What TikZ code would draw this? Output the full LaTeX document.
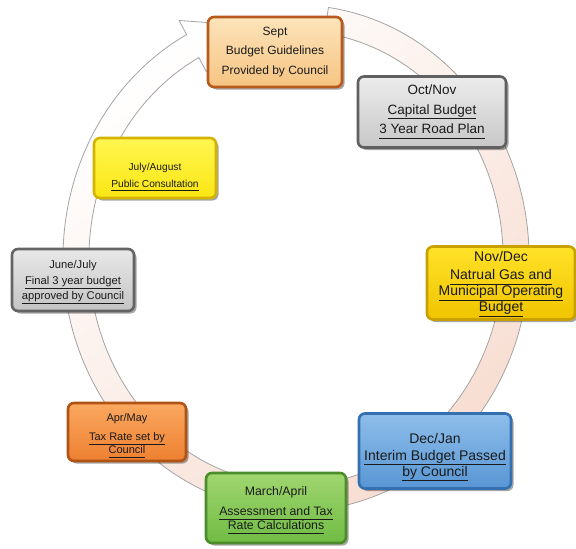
\documentclass[tikz,border=0pt]{standalone}
\usepackage{fontspec}
\setmainfont{Liberation Sans}
\usetikzlibrary{calc,shadows}
\definecolor{ringpink}{HTML}{F7DCD0}
\definecolor{ringline}{HTML}{A4A4A4}
\definecolor{txtcol}{HTML}{1A1A1A}
\newcommand\undl[1]{\underline{#1\vphantom{gy}}}
\begin{document}
\begin{tikzpicture}[x=1pt,y=1pt,
  ring/.style={draw=ringline, line width=0.8pt, top color=white, bottom color=ringpink, shading angle=40},
  cbox/.style={rounded corners=6pt, line width=2.6pt, inner sep=0pt,
     drop shadow={shadow xshift=2.5pt, shadow yshift=-2.5pt, opacity=0.35, fill=black}},
  txt/.style={align=center, text=txtcol, inner sep=0pt}
]
\useasboundingbox (0,0) rectangle (576,-549);
\fill[white] (0,0) rectangle (576,-549);

% circular arrow
\coordinate (C) at (296,-258);
\path[ring] ($(C)+(82:233pt and 253pt)$)
  arc[start angle=82, end angle=-242, x radius=233pt, y radius=253pt]
  -- ($(C)+(118:249pt and 269pt)$)
  -- ($(C)+(104:220pt and 240pt)$)
  -- ($(C)+(118:191pt and 211pt)$)
  -- ($(C)+(118:207pt and 227pt)$)
  arc[start angle=-242, end angle=82, x radius=207pt, y radius=227pt] -- cycle;

% boxes
\node[cbox, minimum width=134, minimum height=70,
      draw={rgb,255:red,184;green,90;blue,28}, top color={rgb,255:red,253;green,228;blue,186}, bottom color={rgb,255:red,246;green,196;blue,130}]
      (sept) at (275,-52) {};
\node[txt, font=\fontsize{12}{19.5}\selectfont] (septt) at (sept.center)
  {Sept\\Budget Guidelines\\Provided by Council};

\node[cbox, minimum width=148, minimum height=71,
      draw={rgb,255:red,96;green,96;blue,96}, top color={rgb,255:red,236;green,236;blue,236}, bottom color={rgb,255:red,200;green,200;blue,200}]
      (oct) at (432,-112) {};
\node[txt, font=\fontsize{13.5}{19.5}\selectfont] (octt) at (oct.center)
  {Oct/Nov\\\undl{Capital Budget}\\\undl{3 Year Road Plan}};

\node[cbox, minimum width=148, minimum height=73,
      draw={rgb,255:red,200;green,160;blue,0}, top color={rgb,255:red,255;green,226;blue,40}, bottom color={rgb,255:red,240;green,196;blue,0}]
      (nov) at (501,-283) {};
\node[txt, font=\fontsize{14}{13.5}\selectfont] (novt) at ($(nov.center)+(0,-1)$)
  {Nov/Dec\\[4.5pt]\undl{Natrual Gas and}\\\undl{Municipal Operating}\\\undl{Budget}};

\node[cbox, minimum width=152, minimum height=75,
      draw={rgb,255:red,52;green,112;blue,176}, top color={rgb,255:red,142;green,190;blue,234}, bottom color={rgb,255:red,88;green,150;blue,212}]
      (dec) at (435,-451) {};
\node[txt, font=\fontsize{14}{12}\selectfont] (dect) at ($(dec.center)+(0,-6)$)
  {Dec/Jan\\[5pt]\undl{Interim Budget Passed}\\\undl{by Council}};

\node[cbox, minimum width=140, minimum height=70,
      draw={rgb,255:red,76;green,140;blue,42}, top color={rgb,255:red,160;green,214;blue,112}, bottom color={rgb,255:red,112;green,188;blue,68}]
      (mar) at (276,-508) {};
\node[txt, font=\fontsize{12.3}{14}\selectfont] (mart) at ($(mar.center)+(0,-2)$)
  {March/April\\[6pt]\undl{Assessment and Tax}\\\undl{Rate Calculations}};

\node[cbox, minimum width=118, minimum height=58,
      draw={rgb,255:red,176;green,84;blue,22}, top color={rgb,255:red,250;green,168;blue,96}, bottom color={rgb,255:red,238;green,128;blue,48}]
      (apr) at (127,-432) {};
\node[txt, font=\fontsize{11}{10.5}\selectfont] (aprt) at ($(apr.center)+(0,-4)$)
  {Apr/May\\[8.5pt]\undl{Tax Rate set by}\\\undl{Council}};

\node[cbox, minimum width=122, minimum height=62,
      draw={rgb,255:red,100;green,100;blue,100}, top color={rgb,255:red,232;green,232;blue,232}, bottom color={rgb,255:red,196;green,196;blue,196}]
      (jun) at (73,-280) {};
\node[txt, font=\fontsize{11.2}{15}\selectfont] (junt) at ($(jun.center)+(0,-2)$)
  {June/July\\[1pt]\undl{Final 3 year budget}\\\undl{approved by Council}};

\node[cbox, minimum width=122, minimum height=60,
      draw={rgb,255:red,212;green,180;blue,0}, top color={rgb,255:red,255;green,246;blue,80}, bottom color={rgb,255:red,250;green,230;blue,20}]
      (jul) at (155,-168) {};
\node[txt, font=\fontsize{10.2}{17}\selectfont] (jult) at ($(jul.center)+(0,-9)$)
  {July/August\\\undl{Public Consultation}};
\end{tikzpicture}
\end{document}
